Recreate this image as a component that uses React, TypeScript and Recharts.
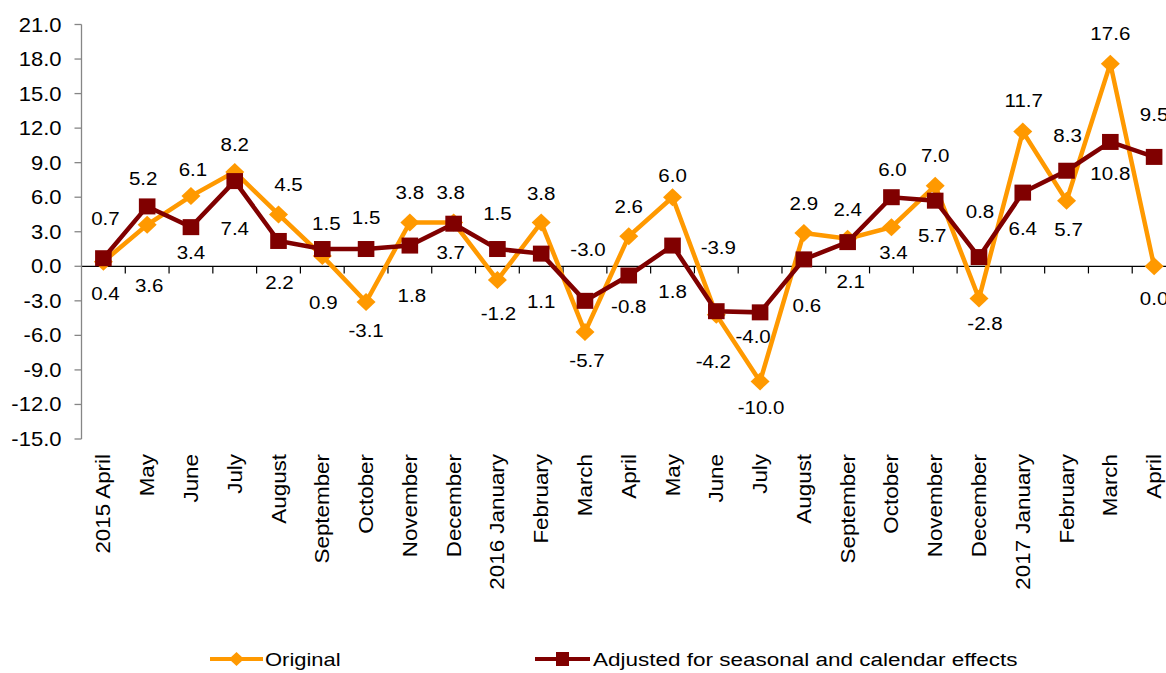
import React from 'react';
import { LineChart, Line, XAxis, YAxis, ReferenceLine, Legend, LabelList } from 'recharts';

const categories = ['2015 April', 'May', 'June', 'July', 'August', 'September', 'October', 'November', 'December', '2016 January', 'February', 'March', 'April', 'May', 'June', 'July', 'August', 'September', 'October', 'November', 'December', '2017 January', 'February', 'March', 'April'];
const original = [0.4, 3.6, 6.1, 8.2, 4.5, 0.9, -3.1, 3.8, 3.8, -1.2, 3.8, -5.7, 2.6, 6.0, -4.2, -10.0, 2.9, 2.4, 3.4, 7.0, -2.8, 11.7, 5.7, 17.6, 0.0];
const adjusted = [0.7, 5.2, 3.4, 7.4, 2.2, 1.5, 1.5, 1.8, 3.7, 1.5, 1.1, -3.0, -0.8, 1.8, -3.9, -4.0, 0.6, 2.1, 6.0, 5.7, 0.8, 6.4, 8.3, 10.8, 9.5];
const yTicks = [-15, -12, -9, -6, -3, 0, 3, 6, 9, 12, 15, 18, 21];

// label placement (offset of label centre from its point, px)
const originalLabelDx = [2, 2, 2, 0, 10, 1, 0, 0, -3, 1, 0, 2, 0, 0, -3, 1, 0, 0, 2, 0, 6, 1, 2, 0, 0];
const originalLabelDy = [32, 60, -27, -28, -30, 46, 28, -30, -30, 33, -29, 28, -30, -22, 47, 26, -30, -29, 25, -30, 25, -31, 29, -30, 32];
const adjustedLabelDx = [2, -4, 0, 0, 1, 4, 0, 2, -3, 0, 0, 3, 0, 0, 2, -7, 3, 3, 1, -3, 1, 0, 1, 0, 0];
const adjustedLabelDy = [-40, -28, 25, 47, 41, -26, -32, 50, 29, -36, 48, -52, 31, 46, -64, 24, 46, 39, -28, 35, -46, 36, -36, 31, -43];

const ORANGE = '#FF9900';
const DARKRED = '#800000';
const FONT = '"Liberation Sans", Arial, sans-serif';

const data = categories.map((c, i) => ({ idx: i, category: c, original: original[i], adjusted: adjusted[i] }));
const xTicks = categories.map((_, i) => i);
const boundaries = categories.slice(0, -1).map((_, i) => i + 0.5);

const XTick = (props: any) => {
  const { x, payload } = props;
  const label = categories[payload.value] ?? '';
  return (
    <text
      transform={`translate(${x + 7},${454}) rotate(-90) scale(1.12,1)`}
      textAnchor="end"
      fontSize={20}
      fontFamily={FONT}
      fill="#000"
    >
      {label}
    </text>
  );
};

const YTick = (props: any) => {
  const { x, y, payload } = props;
  return (
    <text
      transform={`translate(${x},${y + 7}) scale(1.1,1)`}
      textAnchor="end"
      fontSize={20}
      fontFamily={FONT}
      fill="#000"
    >
      {Number(payload.value).toFixed(1)}
    </text>
  );
};

const makeLabel = (dxs: number[], dys: number[]) => (props: any) => {
  const { x, y, value, index } = props;
  if (x == null || y == null) return null;
  const cx = x + (dxs[index] || 0);
  const cy = y + (dys[index] || 0) + 6.8;
  return (
    <text
      key={`l-${index}`}
      transform={`translate(${cx},${cy}) scale(1.08,1)`}
      textAnchor="middle"
      fontSize={19}
      fontFamily={FONT}
      fill="#000"
    >
      {Number(value).toFixed(1)}
    </text>
  );
};

const Diamond = (props: any) => {
  const { cx, cy, index } = props;
  if (cx == null || cy == null) return <g key={`d-${index}`} />;
  return (
    <polygon
      key={`d-${index}`}
      points={`${cx},${cy - 9} ${cx + 9.5},${cy} ${cx},${cy + 9} ${cx - 9.5},${cy}`}
      fill={ORANGE}
      stroke="none"
    />
  );
};

const Square = (props: any) => {
  const { cx, cy, index } = props;
  if (cx == null || cy == null) return <g key={`s-${index}`} />;
  return <rect key={`s-${index}`} x={cx - 8.3} y={cy - 8} width={16.6} height={16} fill={DARKRED} />;
};

const LegendContent = () => (
  <svg width={1166} height={30} style={{ display: 'block' }}>
    <line x1={210} x2={263} y1={16} y2={16} stroke={ORANGE} strokeWidth={4} />
    <polygon points={`236.5,9 244,16 236.5,23 229,16`} fill={ORANGE} />
    <text transform="translate(265,22.5) scale(1.22,1)" fontSize={18} fontFamily={FONT} fill="#000">Original</text>
    <line x1={535} x2={590} y1={16} y2={16} stroke={DARKRED} strokeWidth={4} />
    <rect x={556} y={9} width={13} height={14} fill={DARKRED} />
    <text transform="translate(593,22.5) scale(1.25,1)" fontSize={18} fontFamily={FONT} fill="#000">Adjusted for seasonal and calendar effects</text>
  </svg>
);

export default function App() {
  return (
    <div style={{ position: 'fixed', left: 0, top: 0, width: 1166, height: 673, overflow: 'hidden', background: '#fff' }}>
      <LineChart width={1176} height={673} data={data} margin={{ top: 24.5, right: 0, bottom: 0, left: 0 }}>
        <XAxis
          dataKey="idx"
          type="number"
          domain={[-0.5, 24.5]}
          ticks={xTicks}
          interval={0}
          axisLine={false}
          tickLine={false}
          tickSize={0}
          tickMargin={0}
          height={234}
          tick={<XTick />}
          allowDataOverflow
        />
        <YAxis
          domain={[-15, 21]}
          ticks={yTicks}
          interval={0}
          width={81.5}
          axisLine={{ stroke: '#868686', strokeWidth: 1.3 }}
          tickLine={{ stroke: '#868686', strokeWidth: 1.3 }}
          tickSize={7}
          tickMargin={13}
          tick={<YTick />}
          allowDataOverflow
        />
        <ReferenceLine y={0} stroke="#000" strokeWidth={1.3} />
        {boundaries.map((b) => (
          <ReferenceLine
            key={`b-${b}`}
            segment={[{ x: b, y: 0 }, { x: b, y: -0.62 }]}
            stroke="#000"
            strokeWidth={1.2}
          />
        ))}
        <Line
          dataKey="original"
          stroke={ORANGE}
          strokeWidth={4.5}
          dot={Diamond}
          activeDot={false}
          isAnimationActive={false}
        >
          <LabelList dataKey="original" content={makeLabel(originalLabelDx, originalLabelDy)} />
        </Line>
        <Line
          dataKey="adjusted"
          stroke={DARKRED}
          strokeWidth={4.5}
          dot={Square}
          activeDot={false}
          isAnimationActive={false}
        >
          <LabelList dataKey="adjusted" content={makeLabel(adjustedLabelDx, adjustedLabelDy)} />
        </Line>
        <Legend
          layout="horizontal"
          verticalAlign="middle"
          align="center"
          content={<LegendContent />}
          wrapperStyle={{ left: 0, top: 643, width: 1166, height: 30 }}
        />
      </LineChart>
    </div>
  );
}
